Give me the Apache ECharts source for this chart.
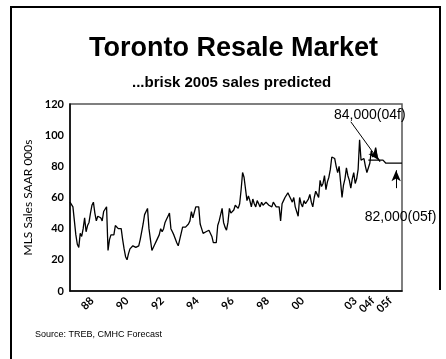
<!DOCTYPE html>
<html>
<head>
<meta charset="utf-8">
<script src="https://cdn.jsdelivr.net/npm/echarts@6/dist/echarts.min.js"></script>
<style>html,body{margin:0;padding:0;background:#fff;}#c{width:446px;height:359px;}</style>
</head>
<body>
<div id="c"></div>
<script>
// Years covered by the monthly axis (Jan 1987 - Dec 2005)
var startYear = 1987;
var endYear = 2005;
// Tick labels keyed by year (shown at April of that year)
var tickYears = ['1988','1990','1992','1994','1996','1998','2000','2003','2004','2005'];
var tickLabels = ['88','90','92','94','96','98','00','03','04f','05f'];
// Monthly MLS sales, SAAR 000s (Jan 1987 onward)
var actual = [
57,58,54,45,36,30,28,37,35,40,47,38,
42,44,50,55,57,50,45,48,48,47,45,51,
51,54,26,33,36,35,36,42,41,40,39,40,
33,27,22,20,24,27,28,29,29,28,29,29,
33,38,43,49,51,53,40,33,26,25,30,32,
31,36,40,38,40,44,46,48,50,40,38,36,
35,31,29,33,37,41,42,41,41,43,45,51,
47,48,54,55,54,43,40,37,37,38,37,39,
40,35,31,30,31,42,45,46,53,44,41,39,
44,53,50,49,52,55,54,53,56,65,76,73,
72,58,61,58,54,59,56,54,58,56,54,57,
55,54,57,56,55,56,54,57,56,54,55,54,
45,56,58,60,61,63,61,59,57,60,54,51,
48,60,56,54,58,56,55,59,62,57,54,60,
64,62,60,71,67,69,74,65,70,73,78,86,
85,85,80,76,80,70,60,68,72,79,74,71,
66,72,76,69,72,78,97,84,83,85,80,76,
75,82,90,86,88,92,86,85,83
];
// Annual forecasts (000s)
var forecastYears = [2004, 2005];
var forecastValues = [84, 82];
var forecastTexts = ['84,000(04f)', '82,000(05f)'];

var categories = [];
for (var y = startYear; y <= endYear; y++) {
  for (var m = 1; m <= 12; m++) categories.push(y + '-' + (m < 10 ? '0' + m : m));
}
var actualData = categories.map(function (c, i) { return i < actual.length ? actual[i] : '-'; });
var forecastData = categories.map(function (c) {
  var k = forecastYears.indexOf(+c.slice(0, 4));
  return k >= 0 ? forecastValues[k] : '-';
});
var i04 = categories.indexOf(forecastYears[0] + '-01');
var i05 = categories.indexOf(forecastYears[1] + '-01');

var chart = echarts.init(document.getElementById('c'), null, {renderer: 'canvas'});
chart.setOption({
  animation: false,
  backgroundColor: '#fff',
  title: [
    {text: 'Toronto Resale Market', left: 84, top: 30,
     textStyle: {fontFamily: 'Liberation Sans', fontWeight: 'bold', fontSize: 27, color: '#000'}},
    {text: '...brisk 2005 sales predicted', left: 127, top: 70,
     textStyle: {fontFamily: 'Liberation Sans', fontWeight: 'bold', fontSize: 15, color: '#000'}}
  ],
  grid: {left: 70, top: 104, right: 44, bottom: 68, show: true, borderColor: '#555', borderWidth: 1.5, backgroundColor: 'transparent'},
  xAxis: {
    type: 'category', data: categories, boundaryGap: false,
    axisLine: {lineStyle: {color: '#000', width: 1.5}},
    axisTick: {show: false},
    splitLine: {show: false},
    axisLabel: {
      interval: 0, rotate: 45, margin: 8,
      fontFamily: 'Lato', fontWeight: 'bold', fontSize: 11, color: '#000',
      formatter: function (v) {
        if (v.slice(5) !== '04') return '';
        var k = tickYears.indexOf(v.slice(0, 4));
        return k >= 0 ? tickLabels[k] : '';
      }
    }
  },
  yAxis: {
    type: 'value', min: 0, max: 120, interval: 20,
    name: 'MLS Sales SAAR 000s', nameLocation: 'middle', nameGap: 24,
    nameTextStyle: {fontFamily: 'Lato', fontSize: 12, color: '#000'},
    axisLine: {show: true, lineStyle: {color: '#000', width: 1.5}},
    axisTick: {show: false},
    splitLine: {show: false},
    axisLabel: {fontFamily: 'Lato', fontWeight: 'bold', fontSize: 11, color: '#000', margin: 6}
  },
  series: [
    {type: 'line', data: actualData, symbol: 'none', lineStyle: {color: '#000', width: 1.3}, silent: true},
    {type: 'line', data: forecastData, symbol: 'none', lineStyle: {color: '#000', width: 1.3}, silent: true,
     markLine: {
       silent: true, symbol: ['none', 'arrow'], symbolSize: [7, 11],
       lineStyle: {color: '#000', width: 1, type: 'solid'}, label: {show: false},
       data: [
         [{coord: [i04 - 12, 108.6]}, {coord: [i04 + 7, forecastValues[0]]}],
         [{coord: [i05 + 7, 66]}, {coord: [i05 + 7, 77.5]}]
       ]
     },
     markPoint: {
       silent: true, symbol: 'rect', symbolSize: 0,
       label: {show: true, fontFamily: 'Liberation Sans', fontSize: 14, color: '#000', formatter: function (p) { return p.name; }},
       data: [
         {name: forecastTexts[0], coord: [i04 + 1, 112.9]},
         {name: forecastTexts[1], coord: [i05 + 10, 47.5]}
       ]
     }}
  ],
  graphic: [
    {type: 'polyline', shape: {points: [[11, 359], [11, 7], [440, 7], [440, 290]]}, style: {stroke: '#000', lineWidth: 2, fill: null}},
    {type: 'text', left: 35, top: 330, style: {text: 'Source: TREB, CMHC Forecast', font: '9px "Liberation Sans"', fill: '#000'}}
  ]
});
</script>
</body>
</html>
